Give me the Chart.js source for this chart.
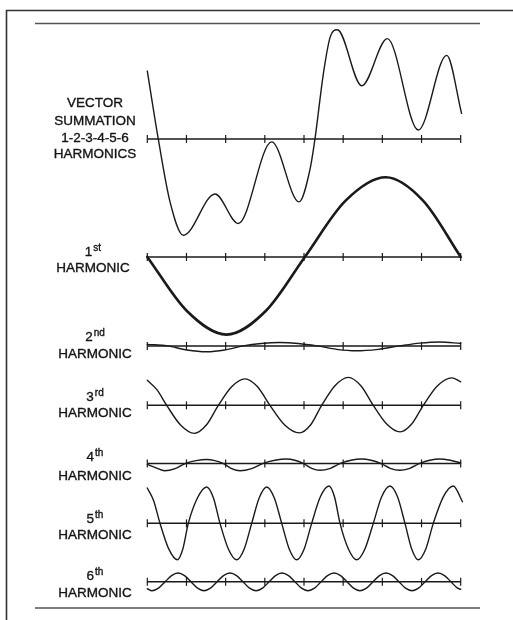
<!DOCTYPE html>
<html>
<head>
<meta charset="utf-8">
<script src="https://cdn.jsdelivr.net/npm/chart.js@4.4.1/dist/chart.umd.min.js"></script>
<style>
  html, body { margin: 0; padding: 0; background: #fff; }
  #wrap { position: relative; width: 513px; height: 620px; }
</style>
</head>
<body>
<div id="wrap"><canvas id="c"></canvas></div>
<script>
// Fundamental phase angle (degrees) at each axis tick
const tickAngles = [0, 45, 90, 135, 180, 225, 270, 315, 360];

// Resultant of harmonics 1-6: phase angle (deg) and amplitude
const sumAngles = [0, 12.6, 26.1, 41.4, 77.8, 104.5, 142.9, 174.3, 186.9, 192.6, 202.2, 209.9, 218.3, 246.3, 275.7, 311.3, 343.9, 361];
const sumValues = [69, 0, -64, -98, -56, -86, -3, -64, -31, 0, 66, 103, 111, 54, 102, 9, 85, 26];

// Individual harmonics: phase angle (deg) and amplitude
const h1Angles = [0, 45.5, 91, 136, 181, 227.5, 274, 317, 360];
const h1Values = [0, -55, -79, -55, 0, 57, 81, 57, 0];

const h2Angles = [0, 23, 45.5, 68, 89, 110, 131, 152, 173.5, 195, 217.5, 240, 265, 290, 313, 336, 360];
const h2Values = [1.5, 0, -4.2, -6, -4.2, 0, 2.5, 3.5, 2.5, 0, -3.5, -5, -3.5, 0, 2.8, 4, 2.5];

const h3Angles = [0, 11, 22.3, 38.2, 54, 67.8, 81.6, 96.9, 112.2, 126.6, 140.9, 157.8, 174.6, 187.5, 200.3, 215.6, 230.9, 245.3, 259.6, 275, 290.3, 303.7, 317, 333.4, 349.7, 360];
const h3Values = [25.5, 16, 0, -20, -28.5, -20, 0, 19, 27, 19, 0, -20, -28, -20, 0, 20, 28.5, 20, 0, -19, -27, -19, 0, 20, 28, 24];

const h4Angles = [0, 10, 20, 32, 44, 56, 68, 77.5, 87, 96.8, 106.5, 119.8, 133, 146.5, 160, 169.5, 179, 188.8, 198.5, 210.3, 222, 234, 246, 257, 268, 279, 290, 301.5, 313, 324.5, 336, 348, 360];
const h4Values = [-1, -4.5, -7.5, -5.3, 0, 2.8, 4, 2.8, 0, -5.3, -7.5, -5.3, 0, 3.2, 4.5, 3.2, 0, -5, -7, -5, 0, 3.2, 4.5, 3.2, 0, -5, -7, -5, 0, 3.2, 4.5, 3.2, 0.5];

const h5Angles = [0, 7.3, 14.6, 24.6, 34.5, 40.8, 47.1, 57.7, 68.2, 75.9, 83.5, 93.1, 102.7, 111.3, 119.9, 128.6, 137.2, 145.8, 154.4, 163, 171.6, 180.2, 188.8, 198.8, 208.7, 215, 221.4, 231, 240.5, 250, 259.6, 269.2, 278.8, 287.4, 296, 303.7, 311.3, 319.9, 328.5, 340, 351.5, 362];
const h5Values = [36, 23, 0, -26, -37, -26, 0, 26, 37, 26, 0, -26, -37, -26, 0, 26, 37, 26, 0, -26, -37, -26, 0, 27, 38, 27, 0, -26, -37, -26, 0, 27, 38, 27, 0, -26, -37, -26, 0, 27, 38, 22];

const h6Angles = [0, 5.4, 12.9, 20.4, 27.9, 35.3, 42.8, 50.2, 57.7, 65.1, 72.6, 80.1, 87.5, 95, 102.5, 110, 117.4, 124.9, 132.4, 139.8, 147.3, 154.7, 162.2, 169.7, 177.1, 184.6, 192.1, 199.5, 207, 214.5, 222, 229.4, 236.9, 244.3, 251.8, 259.3, 266.7, 274.2, 281.7, 289.2, 296.6, 304.1, 311.6, 319, 326.5, 333.9, 341.4, 348.9, 356.4, 360];
const h6Values = [-7, -9, -6.4, 0, 6.4, 9, 6.4, 0, -6.4, -9, -6.4, 0, 6.4, 9, 6.4, 0, -6.4, -9, -6.4, 0, 6.4, 9, 6.4, 0, -6.4, -9, -6.4, 0, 6.4, 9, 6.4, 0, -6.4, -9, -6.4, 0, 6.4, 9, 6.4, 0, -6.4, -9, -6.4, 0, 6.4, 9, 6.4, 0, -6.4, -7.5];

// Label texts
const summationLines = ['VECTOR', 'SUMMATION', '1-2-3-4-5-6', 'HARMONICS'];
const ordinalNumbers = ['1', '2', '3', '4', '5', '6'];
const ordinalSuffixes = ['st', 'nd', 'rd', 'th', 'th', 'th'];
const harmonicWord = 'HARMONIC';

// ---- layout: vertical position of each trace's zero line (px from top) ----
const layout = {
  sumBase: 136,
  harmonicBases: [256, 346.5, 407, 466, 527, 586.5],
  labelX: 95,
  sumLabelOffsets: [-36, -18, -1, 15],
  ordinalOffsets: [-5, -8.5, -8.5, -6.5, -4.5, -6],
  wordOffsets: [11, 8.5, 8, 13, 12, 11.5],
  labelXs: [93, 95, 95, 95, 95, 95]
};

const INK = '#1a1a1a';

function trace(angles, values, base, width) {
  return {
    data: angles.map((a, i) => ({ x: a, y: base - values[i] })),
    borderColor: INK,
    borderWidth: width,
    pointRadius: 0,
    fill: false,
    clip: false,
    cubicInterpolationMode: 'monotone',
    borderCapStyle: 'round',
    borderJoinStyle: 'round'
  };
}

function zeroLine(base) {
  return {
    data: tickAngles.map(a => ({ x: a, y: base })),
    borderColor: INK,
    borderWidth: 1.5,
    pointStyle: 'line',
    rotation: 90,
    pointRadius: 4,
    pointBorderWidth: 1.2,
    pointBorderColor: INK,
    pointBackgroundColor: INK,
    fill: false,
    clip: false,
    tension: 0
  };
}

const bases = layout.harmonicBases;
const datasets = [
  zeroLine(layout.sumBase),
  ...bases.map(zeroLine),
  trace(sumAngles, sumValues, layout.sumBase, 1.4),
  trace(h1Angles, h1Values, bases[0], 2.6),
  trace(h2Angles, h2Values, bases[1], 1.4),
  trace(h3Angles, h3Values, bases[2], 1.4),
  trace(h4Angles, h4Values, bases[3], 1.4),
  trace(h5Angles, h5Values, bases[4], 1.4),
  trace(h6Angles, h6Values, bases[5], 1.4)
];

// White page, border frame and rules
const framePlugin = {
  id: 'frame',
  beforeDraw(chart) {
    const ctx = chart.ctx;
    ctx.save();
    ctx.fillStyle = '#fff';
    ctx.fillRect(0, 0, chart.width, chart.height);
    ctx.strokeStyle = '#333';
    ctx.lineWidth = 1.6;
    ctx.beginPath();
    ctx.moveTo(513, 10.5);
    ctx.lineTo(6.5, 10.5);
    ctx.lineTo(6.5, 620);
    ctx.stroke();
    ctx.strokeStyle = '#555';
    ctx.lineWidth = 1.3;
    ctx.beginPath();
    ctx.moveTo(35, 23.5); ctx.lineTo(480, 23.5);
    ctx.moveTo(35, 608); ctx.lineTo(480, 608);
    ctx.stroke();
    ctx.restore();
  }
};

// Trace captions at the left of each zero line
const captionPlugin = {
  id: 'captions',
  afterDraw(chart) {
    const ctx = chart.ctx;
    const y = chart.scales.y;
    const big = '13.5px "Liberation Sans", Arial, sans-serif';
    const small = '10px "Liberation Sans", Arial, sans-serif';
    ctx.save();
    ctx.fillStyle = '#151515';
    ctx.strokeStyle = '#151515';
    ctx.lineWidth = 0.35;
    ctx.textBaseline = 'middle';
    const put = (t, x, yy) => { ctx.fillText(t, x, yy); ctx.strokeText(t, x, yy); };
    ctx.textAlign = 'center';
    ctx.font = big;
    const sy = y.getPixelForValue(layout.sumBase);
    summationLines.forEach((t, i) => put(t, layout.labelX, sy + layout.sumLabelOffsets[i]));
    bases.forEach((b, i) => {
      const py = y.getPixelForValue(b);
      const cx = layout.labelXs[i];
      ctx.font = big;
      const w1 = ctx.measureText(ordinalNumbers[i]).width;
      ctx.font = small;
      const w2 = ctx.measureText(ordinalSuffixes[i]).width;
      const x0 = cx - (w1 + w2 + 1) / 2;
      const oy = py + layout.ordinalOffsets[i];
      ctx.textAlign = 'left';
      ctx.font = big;
      put(ordinalNumbers[i], x0, oy);
      ctx.font = small;
      put(ordinalSuffixes[i], x0 + w1 + 1, oy - 4);
      ctx.textAlign = 'center';
      ctx.font = big;
      put(harmonicWord, cx, py + layout.wordOffsets[i]);
    });
    ctx.restore();
  }
};

new Chart(document.getElementById('c'), {
  type: 'line',
  data: { datasets },
  plugins: [framePlugin, captionPlugin],
  options: {
    responsive: true,
    maintainAspectRatio: false,
    animation: false,
    events: [],
    layout: { padding: { left: 147.3, right: 52.3, top: 0, bottom: 0 } },
    scales: {
      x: { type: 'linear', min: 0, max: 360, display: false },
      y: { type: 'linear', min: 0, max: 620, reverse: true, display: false }
    },
    plugins: { legend: { display: false }, tooltip: { enabled: false } }
  }
});
</script>
</body>
</html>
